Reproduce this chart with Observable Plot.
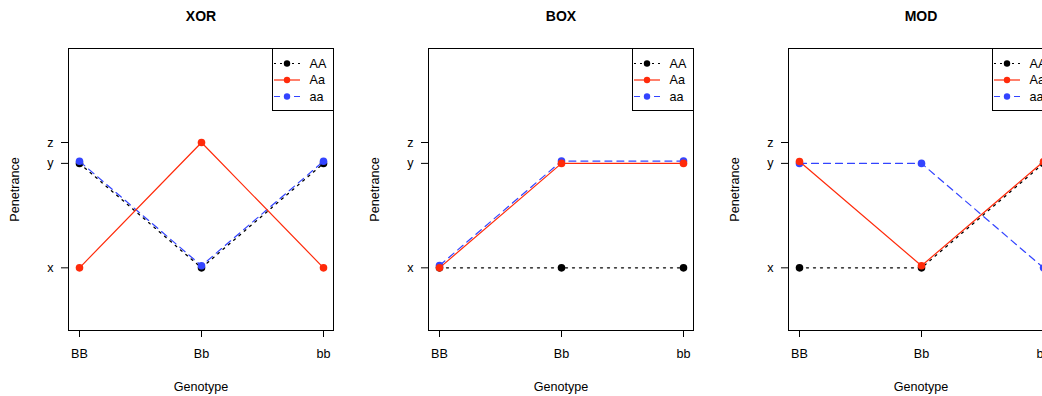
<!DOCTYPE html>
<html><head><meta charset="utf-8">
<script src="https://cdn.jsdelivr.net/npm/d3@7"></script>
<script src="https://cdn.jsdelivr.net/npm/@observablehq/plot@0.6"></script>
<style>
body{margin:0;background:#fff;}
#wrap{width:1042px;height:396px;overflow:hidden;display:flex;font-family:"Liberation Sans",Arial,Helvetica,sans-serif;}
#wrap svg{flex:none;}
</style></head><body><div id="wrap"></div>
<script>
const genotypes = ["BB", "Bb", "bb"];
const seriesNames = ["AA", "Aa", "aa"];
const seriesColors = ["#000000", "#ff2a0a", "#3344ff"];
const seriesDash = ["2,5", null, "7,5"];
const levelValues = [0.2, 0.6, 0.68];
const levelLabels = ["x", "y", "z"];
const panelTitles = ["XOR", "BOX", "MOD"];
const xorAA = [0.6, 0.2, 0.6];
const xorAa = [0.2, 0.68, 0.2];
const xoraa = [0.608, 0.208, 0.608];
const boxAA = [0.2, 0.2, 0.2];
const boxAa = [0.2, 0.6, 0.6];
const boxaa = [0.209, 0.609, 0.609];
const modAA = [0.2, 0.2, 0.6];
const modAa = [0.607, 0.208, 0.607];
const modaa = [0.6, 0.6, 0.2];
const panelSeries = [[xorAA, xorAa, xoraa], [boxAA, boxAa, boxaa], [modAA, modAa, modaa]];

const W = 360, H = 396, mL = 68, mR = 27, mT = 48, mB = 66;
const drawOrder = [0, 2, 1];
const FS = 12.6;

function panel(title, seriesVals) {
  const marks = [];
  for (const i of drawOrder) {
    const rows = genotypes.map((g, j) => ({g, v: seriesVals[i][j]}));
    marks.push(Plot.line(rows, {x: "g", y: "v", stroke: seriesColors[i], strokeWidth: i === 0 ? 1.3 : 1.2, strokeDasharray: seriesDash[i] || undefined}));
    marks.push(Plot.dot(rows, {x: "g", y: "v", fill: seriesColors[i], r: 3.8}));
  }
  marks.push(Plot.frame({stroke: "black", strokeWidth: 1, strokeOpacity: 1}));
  marks.push(Plot.axisX({tickSize: 7, tickPadding: 12, fontSize: FS, label: null}));
  marks.push(Plot.axisY({ticks: levelValues, tickFormat: d => levelLabels[levelValues.indexOf(d)], tickSize: 7, tickPadding: 8, fontSize: FS, label: null}));
  marks.push(Plot.text([title], {frameAnchor: "top", dy: -32, lineAnchor: "middle", textAnchor: "middle", fontSize: 14, fontWeight: "bold"}));
  marks.push(Plot.text(["Genotype"], {frameAnchor: "bottom", dy: 56, lineAnchor: "middle", textAnchor: "middle", fontSize: FS}));
  marks.push(Plot.text(["Penetrance"], {frameAnchor: "left", dx: -54, rotate: -90, lineAnchor: "middle", textAnchor: "middle", fontSize: FS}));
  const svg = Plot.plot({
    width: W, height: H,
    marginLeft: mL, marginRight: mR, marginTop: mT, marginBottom: mB,
    style: {fontFamily: '"Liberation Sans", Arial, Helvetica, sans-serif', color: "black", background: "white"},
    x: {type: "point", domain: genotypes, padding: 0.08, align: 0.5},
    y: {type: "linear", domain: [-0.04, 1.04]},
    marks
  });
  // legend
  const lw = 61, lh = 62;
  const L = W - mR - lw;
  const g = d3.select(svg).append("g").attr("text-anchor", "start");
  g.append("rect").attr("x", L + 0.5).attr("y", mT + 0.5).attr("width", lw).attr("height", lh)
    .attr("fill", "white").attr("stroke", "black");
  seriesNames.forEach((name, i) => {
    const cy = mT + 15.5 + i * 16.5;
    g.append("line").attr("x1", L + 2).attr("x2", L + 28).attr("y1", cy).attr("y2", cy)
      .attr("stroke", seriesColors[i]).attr("stroke-width", 1.2)
      .attr("stroke-dasharray", seriesDash[i] ? (i === 0 ? "2,4" : "6,4") : null);
    g.append("circle").attr("cx", L + 15).attr("cy", cy).attr("r", 3.2).attr("fill", seriesColors[i]);
    g.append("text").attr("x", L + 37.5).attr("y", cy).attr("dy", "0.35em")
      .attr("text-anchor", "start").attr("font-size", FS).attr("fill", "black").text(name);
  });
  return svg;
}

const wrap = document.getElementById("wrap");
panelTitles.forEach((t, k) => wrap.appendChild(panel(t, panelSeries[k])));
</script>
</body></html>
